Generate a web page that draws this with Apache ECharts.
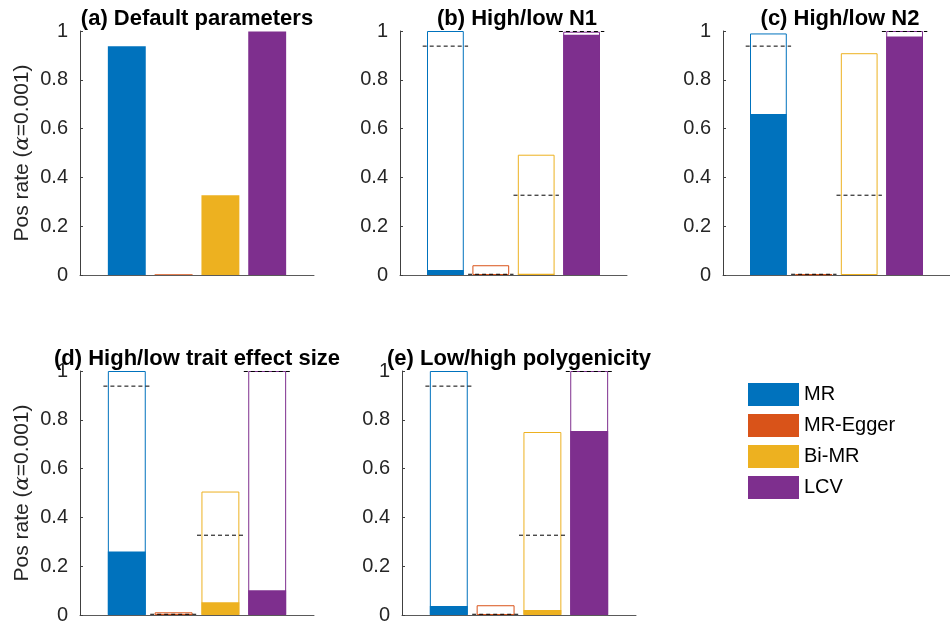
<!DOCTYPE html>
<html>
<head>
<meta charset="utf-8">
<script src="https://cdn.jsdelivr.net/npm/echarts@6/dist/echarts.min.js"></script>
<style>
html,body{margin:0;padding:0;background:#fff;}
#chart{width:950px;height:626px;}
</style>
</head>
<body>
<div id="chart"></div>
<script>
// methods and colours (MATLAB default order)
const methods = ['MR', 'MR-Egger', 'Bi-MR', 'LCV'];
const colors = ['#0072BD', '#D95319', '#EDB120', '#7E2F8E'];
const positions = [1, 2, 3, 4];

// (a) default parameters, also used as dashed reference lines
const defaultRate = [0.938, 0.003, 0.327, 0.998];
// (b) high / low N1
const n1High = [1.0, 0.04, 0.493, 0.997];
const n1Low = [0.02, 0.0, 0.005, 0.985];
// (c) high / low N2
const n2High = [0.99, 0.003, 0.909, 1.0];
const n2Low = [0.66, 0.003, 0.002, 0.977];
// (d) high / low trait effect size
const effHigh = [1.0, 0.011, 0.506, 1.0];
const effLow = [0.26, 0.0, 0.052, 0.101];
// (e) low / high polygenicity
const polyLow = [1.0, 0.04, 0.75, 1.0];
const polyHigh = [0.037, 0.0, 0.02, 0.754];

const titles = ['(a) Default parameters', '(b) High/low N1', '(c) High/low N2',
                '(d) High/low trait effect size', '(e) Low/high polygenicity'];

// panel boxes [left, top, width, height]
const boxes = [
  [80, 31, 234, 244],
  [400, 31, 227, 244],
  [723, 31, 234, 244],
  [80, 371, 234, 244],
  [402, 371, 234, 244]
];
const panels = [
  {hollow: null, filled: defaultRate, ref: false},
  {hollow: n1High, filled: n1Low, ref: true},
  {hollow: n2High, filled: n2Low, ref: true},
  {hollow: effHigh, filled: effLow, ref: true},
  {hollow: polyLow, filled: polyHigh, ref: true}
];

const font = '"Liberation Sans", Arial, Helvetica, sans-serif';
const grid = [], xAxis = [], yAxis = [], series = [], graphic = [];

boxes.forEach((b, k) => {
  grid.push({left: b[0], top: b[1], width: b[2], height: b[3], containLabel: false});
  xAxis.push({
    gridIndex: k, type: 'value', min: 0, max: 5,
    axisLine: {show: true, onZero: false, lineStyle: {color: '#5a5a5a', width: 1}},
    axisTick: {show: false}, axisLabel: {show: false}, splitLine: {show: false}
  });
  const ya = {
    gridIndex: k, type: 'value', min: 0, max: 1, interval: 0.2,
    axisLine: {show: true, lineStyle: {color: '#404040', width: 1}},
    axisTick: {show: true, inside: true, length: 3, lineStyle: {color: '#404040'}},
    axisLabel: {color: '#262626', fontSize: 20, fontFamily: font, margin: 12},
    splitLine: {show: false}
  };
  if (k === 0 || k === 3) {
    ya.name = 'Pos rate ({a|α}=0.001)';
    ya.nameLocation = 'middle';
    ya.nameRotate = 90;
    ya.nameGap = 47;
    ya.nameTextStyle = {
      color: '#262626', fontSize: 21, fontFamily: font,
      rich: {a: {fontStyle: 'italic', fontSize: 21, fontFamily: '"DejaVu Serif", serif', color: '#262626'}}
    };
  }
  yAxis.push(ya);

  graphic.push({
    type: 'text', x: b[0] + 117, y: b[1] - 12,
    style: {text: titles[k], fill: '#000', font: 'bold 22px ' + font, align: 'center', verticalAlign: 'middle'}
  });

  const p = panels[k];
  if (p.hollow) {
    series.push({
      type: 'bar', xAxisIndex: k, yAxisIndex: k, z: 2,
      barWidth: '81%', barGap: '-100%',
      data: p.hollow.map((v, i) => ({
        value: [positions[i], v],
        itemStyle: {color: 'rgba(255,255,255,0)', borderColor: colors[i], borderWidth: 1}
      }))
    });
  }
  series.push({
    type: 'bar', xAxisIndex: k, yAxisIndex: k, z: 3,
    barWidth: '81%', barGap: '-100%',
    data: p.filled.map((v, i) => ({value: [positions[i], v], itemStyle: {color: colors[i]}}))
  });
  if (p.ref) {
    series.push({
      type: 'custom', xAxisIndex: k, yAxisIndex: k, z: 4,
      data: defaultRate.map((v, i) => [positions[i], v]),
      renderItem: function (params, api) {
        const x = api.value(0), y = api.value(1);
        const p1 = api.coord([x - 0.5, y]), p2 = api.coord([x + 0.5, y]);
        return {
          type: 'line',
          shape: {x1: p1[0], y1: p1[1], x2: p2[0], y2: p2[1]},
          style: {stroke: '#000', lineWidth: 1, lineDash: [4, 3]}
        };
      }
    });
  }
});

// legend-only series
methods.forEach((m, i) => {
  series.push({
    name: m, type: 'bar', xAxisIndex: 0, yAxisIndex: 0,
    barWidth: '81%', barGap: '-100%',
    itemStyle: {color: colors[i]}, data: []
  });
});

const chart = echarts.init(document.getElementById('chart'));
chart.setOption({
  animation: false,
  backgroundColor: '#fff',
  grid, xAxis, yAxis, series, graphic,
  legend: {
    data: methods, orient: 'vertical', left: 748, top: 383,
    icon: 'rect', itemWidth: 51, itemHeight: 23, itemGap: 8, padding: 0,
    selectedMode: false,
    textStyle: {color: '#000', fontSize: 20, fontFamily: font}
  }
});
</script>
</body>
</html>
